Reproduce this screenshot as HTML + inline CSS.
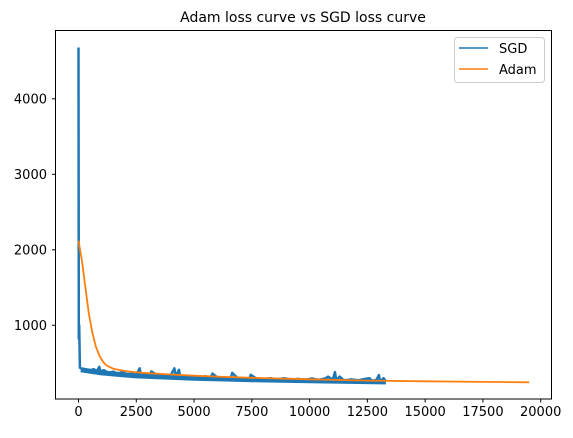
<!DOCTYPE html>
<html><head><meta charset="utf-8"><style>
html,body{margin:0;padding:0;background:#fff;}
svg text{font-family:"DejaVu Sans","Liberation Sans",sans-serif;fill:#000;}
</style></head><body>
<svg id="chart" width="573" height="433" viewBox="0 0 573 433" xmlns="http://www.w3.org/2000/svg">
<rect width="573" height="433" fill="#fff"/>
<text x="303" y="22" font-size="14" text-anchor="middle">Adam loss curve vs SGD loss curve</text>
<g id="plot"></g>
<rect x="55.5" y="30.5" width="496" height="368.5" fill="none" stroke="#000" stroke-width="1"/>
<g id="xticks"></g><g id="yticks"></g>
<g>
<rect x="454.5" y="37.5" width="90" height="45" rx="3" fill="#fff" fill-opacity="0.8" stroke="#ccc"/>
<line x1="459" y1="48" x2="488" y2="48" stroke="#1f77b4" stroke-width="1.5"/>
<text x="499" y="53" font-size="13">SGD</text>
<line x1="459" y1="69" x2="488" y2="69" stroke="#ff7f0e" stroke-width="1.5"/>
<text x="499" y="74" font-size="13">Adam</text>
</g>
</svg>
<script>
const xTicks=[0,2500,5000,7500,10000,12500,15000,17500,20000];
const yTicks=[1000,2000,3000,4000];
const sgdIters=[0,15,30,60,100,200,350,500,650,800,900,950,1100,1300,1500,1700,1900,2100,2300,2500,2650,2700,2900,3100,3150,3400,3700,4000,4150,4200,4350,4400,4600,4900,5200,5500,5700,5800,6000,6300,6600,6650,6900,7200,7400,7450,7700,8000,8300,8600,8900,9200,9500,9800,10100,10400,10700,10800,11000,11100,11150,11300,11500,11800,12100,12400,12600,12700,12900,13000,13050,13200,13300];
const sgdLoss=[4680,820,1000,440,430,425,410,400,420,395,450,385,405,370,385,360,380,350,360,345,430,340,365,335,390,340,330,345,430,320,410,315,330,320,310,325,300,360,310,300,305,370,295,300,290,345,295,290,300,285,300,280,290,275,295,275,300,320,280,380,270,320,265,285,270,290,300,255,280,340,255,300,255];
const sgdLowIters=[100,1000,2500,5000,7500,10000,13300];
const sgdLowLoss=[410,370,330,300,280,265,250];
const adamIters=[0,150,300,450,600,750,900,1050,1200,1500,2000,2500,3000,4000,5000,6000,7500,10000,12500,15000,17500,19500];
const adamLoss=[2120,1850,1500,1150,900,720,600,520,470,425,395,378,365,348,333,320,305,285,268,258,250,245];
const X=v=>78.5+v*(462.2/20000);
const Y=v=>400.8-v*0.0755;
const ns="http://www.w3.org/2000/svg";
const plot=document.getElementById('plot');
function pl(xs,ys,col,w,name){const p=document.createElementNS(ns,'polyline');
p.setAttribute('points',xs.map((x,i)=>X(x).toFixed(1)+','+Y(ys[i]).toFixed(1)).join(' '));
p.setAttribute('fill','none');p.setAttribute('stroke',col);p.setAttribute('stroke-width',w);p.setAttribute('stroke-linejoin','round');


plot.appendChild(p);}
pl(sgdLowIters,sgdLowLoss,'#1f77b4',5,'sgd-noise-band');
pl(sgdIters,sgdLoss,'#1f77b4',2.5,'sgd-line');
pl(adamIters,adamLoss,'#ff7f0e',1.8,'adam-line');
const xt=document.getElementById('xticks');
xTicks.forEach(t=>{const x=X(t);
const l=document.createElementNS(ns,'line');l.setAttribute('x1',x);l.setAttribute('x2',x);l.setAttribute('y1',399);l.setAttribute('y2',402.5);l.setAttribute('stroke','#000');


xt.appendChild(l);
const s=document.createElementNS(ns,'text');s.setAttribute('x',x);s.setAttribute('y',416);s.setAttribute('font-size','13');s.setAttribute('text-anchor','middle');s.textContent=t;


xt.appendChild(s);});
const yt=document.getElementById('yticks');
yTicks.forEach(t=>{const y=Y(t);
const l=document.createElementNS(ns,'line');l.setAttribute('x1',52);l.setAttribute('x2',55.5);l.setAttribute('y1',y);l.setAttribute('y2',y);l.setAttribute('stroke','#000');


yt.appendChild(l);
const s=document.createElementNS(ns,'text');s.setAttribute('x',47);s.setAttribute('y',y+4.5);s.setAttribute('font-size','13');s.setAttribute('text-anchor','end');s.textContent=t;


yt.appendChild(s);});
</script>
</body></html>
